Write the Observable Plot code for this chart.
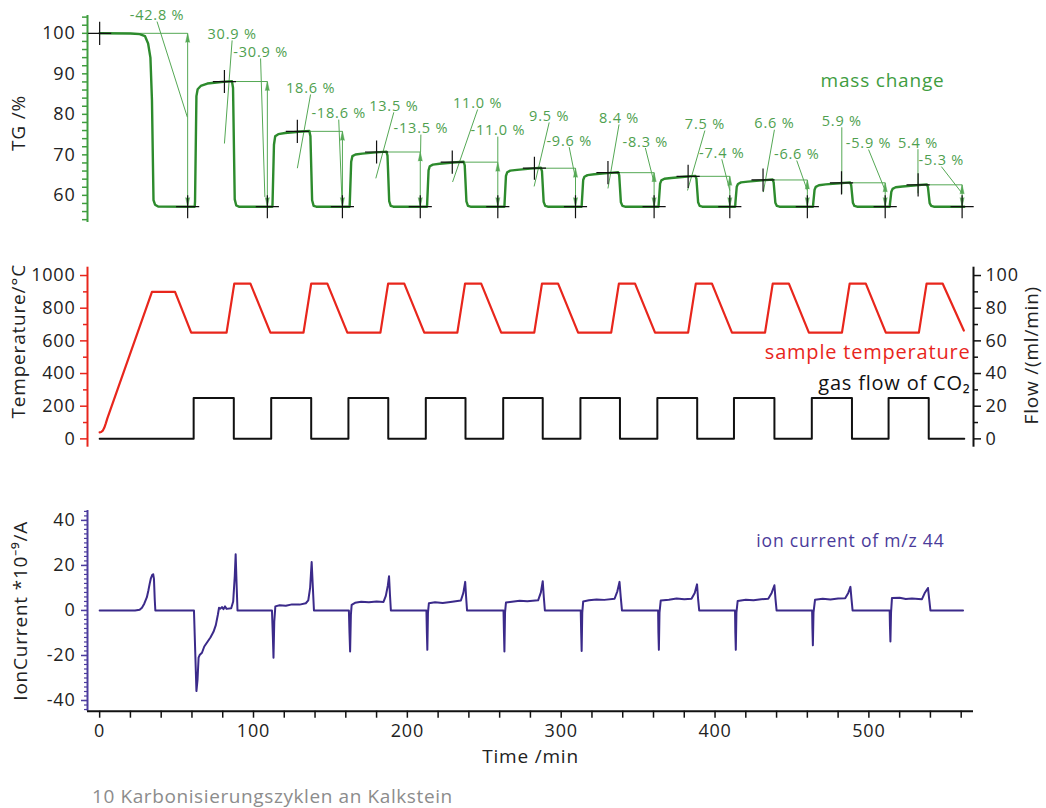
<!DOCTYPE html>
<html><head><meta charset="utf-8">
<script src="https://cdn.jsdelivr.net/npm/d3@7"></script>
<script src="https://cdn.jsdelivr.net/npm/@observablehq/plot@0.6"></script>
<style>
body{margin:0;background:#fff;}
#wrap{position:relative;width:1046px;height:808px;font-family:"Open Sans",sans-serif;overflow:hidden;}
.panel{position:absolute;left:0;}
.panel svg{overflow:visible;letter-spacing:0.8px;}
#caption{position:absolute;left:92px;top:786px;font-size:19px;line-height:20px;letter-spacing:0.6px;color:#8c8c8c;}
</style></head><body>
<div id="wrap">
<div id="p1" class="panel" style="top:0px"></div>
<div id="p2" class="panel" style="top:240px"></div>
<div id="p3" class="panel" style="top:455px"></div>
<div id="caption">10 Karbonisierungszyklen an Kalkstein</div>
</div>
<script>
// ---------------- DATA ----------------
// time axis (min)
const timeTicksMajor = [0, 100, 200, 300, 400, 500];
const timeTicksMinor = [0,20,40,60,80,100,120,140,160,180,200,220,240,260,280,300,320,340,360,380,400,420,440,460,480,500,520,540,560];

// TG curve: [time min, TG %]
const tgPoints = [
 [0,100],[20,99.95],[26,99.8],[29.5,99.3],[31.5,97.5],[33,94],[34,83.5],[35,58.8],[36,57.7],[38,57.25],[61.8,57.2],
 [62.0,58.5],[62.9,84.5],[63.7,86.2],[65.7,87],[70,87.6],[79,88],[86,88.2],[86.7,86.5],[87.8,59],[88.8,57.5],[90.5,57.2],[112.3,57.2],
 [112.4,58.5],[113.3,72.5],[114.1,74.6],[116.1,75.1],[120.5,75.4],[129.5,75.7],[136.3,75.9],[137,74.6],[138.1,58.8],[139.1,57.4],[140.8,57.2],[162.5,57.2],
 [162.6,58.3],[163.5,68.3],[164.3,69.7],[166.3,70.1],[170.7,70.3],[179.6,70.6],[186.4,70.8],[187.1,69.8],[188.2,58.6],[189.2,57.4],[190.9,57.2],[212.8,57.2],
 [212.9,58.2],[213.8,66.2],[214.6,67.2],[216.6,67.6],[221,67.8],[229.8,68.1],[236.6,68.3],[237.3,67.4],[238.4,58.5],[239.4,57.4],[241.1,57.2],[263.1,57.2],
 [263.2,58.1],[264.1,64.8],[264.9,65.7],[266.9,66.1],[271.3,66.3],[280,66.6],[286.8,66.8],[287.5,66],[288.6,58.4],[289.6,57.4],[291.3,57.2],[313.3,57.2],
 [313.4,58],[314.3,63.8],[315.1,64.6],[317.1,65],[321.5,65.2],[330.2,65.5],[337,65.7],[337.7,65],[338.8,58.3],[339.8,57.4],[341.5,57.2],[363.3,57.2],
 [363.4,58],[364.3,62.9],[365.1,63.7],[367.1,64.1],[371.5,64.3],[380.4,64.6],[387.2,64.8],[387.9,64.1],[389,58.3],[390,57.4],[391.7,57.2],[413.1,57.2],
 [413.2,58],[414.1,62.1],[414.9,62.8],[416.9,63.2],[421.3,63.4],[430.6,63.7],[437.4,63.9],[438.1,63.2],[439.2,58.2],[440.2,57.4],[441.9,57.2],[463.7,57.2],
 [463.8,57.9],[464.7,61.4],[465.5,62.1],[467.5,62.5],[471.9,62.7],[481,63],[487.8,63.2],[488.5,62.5],[489.6,58.2],[490.6,57.4],[492.3,57.2],[513.6,57.2],
 [513.7,57.9],[514.6,60.9],[515.4,61.6],[517.4,62],[521.8,62.2],[530.9,62.5],[537.7,62.7],[538.4,62],[539.5,58.1],[540.5,57.4],[542.2,57.2],[562,57.2]
];
const tgLow = 57.2;
// step evaluation markers
const peakCrossT = [0, 81.1, 128.5, 180, 229.2, 282.6, 330.4, 382.5, 431.2, 482.2, 532];
const stepLevel  = [100, 88.1, 75.8, 70.7, 68.2, 66.7, 65.6, 64.7, 63.8, 63.1, 62.6];
const bottomCrossT = [57.2, 109, 157.8, 208.4, 258.8, 309.3, 360.4, 409.6, 460, 510.6, 560.6];
// labels: [text, label t, label TG, leader end t, leader end TG]
const lossLabels = [
 ["-42.8 %", 37.3, 104.4, 57.0, 79.3],
 ["-30.9 %", 104.6, 95.3, 107.4, 59.6],
 ["-18.6 %", 155.4, 80.2, 157.5, 58.8],
 ["-13.5 %", 208.8, 76.5, 208.6, 70.7],
 ["-11.0 %", 258.8, 76.0, 258.8, 68.2],
 ["-9.6 %", 305.2, 73.4, 309.1, 64.5],
 ["-8.3 %", 354.7, 73.2, 360.0, 63.7],
 ["-7.4 %", 404.4, 70.4, 409.6, 61.2],
 ["-6.6 %", 453.1, 70.1, 460.0, 61.2],
 ["-5.9 %", 499.8, 72.8, 510.6, 61.2],
 ["-5.3 %", 547.1, 68.6, 560.0, 60.8]
];
const gainLabels = [
 ["30.9 %", 86.1, 99.75, 81.1, 72.8],
 ["18.6 %", 137.1, 86.4, 128.5, 66.7],
 ["13.5 %", 191.2, 82.0, 179.5, 64.2],
 ["11.0 %", 245.7, 82.7, 229.4, 63.3],
 ["9.5 %", 292.2, 79.5, 282.4, 62.2],
 ["8.4 %", 337.6, 79.0, 330.4, 61.7],
 ["7.5 %", 393.4, 77.5, 382.1, 61.2],
 ["6.6 %", 438.6, 77.7, 431.4, 60.8],
 ["5.9 %", 482.4, 78.3, 482.4, 60.4],
 ["5.4 %", 531.9, 72.9, 531.9, 60.5]
];
const tgTicksMajor = [60, 70, 80, 90, 100];
const tgTicksMinor = [54,56,58,60,62,64,66,68,70,72,74,76,78,80,82,84,86,88,90,92,94,96,98,100,102,104];

// sample temperature: [time min, °C]
const tempPoints = [
 [0,40],[1,42],[2,50],[3,68],[4,95],[5,125],[34,900],[49,900],[59.5,650],
 [82.5,650],[87.5,950],[98,950],[111,650],
 [132.5,650],[137.5,950],[148,950],[161,650],
 [182.5,650],[187.5,950],[198,950],[211,650],
 [232.5,650],[237.5,950],[248,950],[261,650],
 [282.5,650],[287.5,950],[298,950],[311,650],
 [332.5,650],[337.5,950],[348,950],[361,650],
 [382.5,650],[387.5,950],[398,950],[411,650],
 [432.5,650],[437.5,950],[448,950],[461,650],
 [482.5,650],[487.5,950],[498,950],[511,650],
 [532.5,650],[537.5,950],[548,950],[561.7,663]
];
const tempTicksMajor = [0, 200, 400, 600, 800, 1000];
const tempTicksMinor = [100, 300, 500, 700, 900];
// CO2 gas flow (ml/min)
const flowOnT  = [61.1, 111.5, 161.7, 212, 262.3, 312.5, 362.5, 412.3, 462.9, 512.8];
const flowOffT = [87.2, 137.5, 187.6, 237.8, 288, 338.2, 388.4, 438.6, 489, 538.9];
const flowOn = 25, flowOff = 0, flowStart = 0, flowEnd = 562;
const flowTicksMajor = [0, 20, 40, 60, 80, 100];
const flowTicksMinor = [10, 30, 50, 70, 90];

// ion current m/z 44: [time min, 1e-9 A]
const ionPoints = [
 [0,0],[23,0],[26,0.3],[27.5,1.2],[29,3],[30.7,5.9],[31.7,9],[32.5,11.8],[33.3,14.3],[34.2,15.8],[34.8,16.1],[35.3,14],[35.8,5],[36.2,0],
 [61.3,0],[62.2,-20],[62.9,-35.8],[63.6,-31],[64.3,-21],[65,-19.8],[66.5,-18.8],[68,-16],[70,-14],[72,-12],[74,-9.5],[75.5,-6.5],[76.8,-2],[77.6,1.2],[78.5,0.8],[79.5,1.5],[80.5,0.6],[81.5,1.8],[82.5,0.7],[85.5,1],[86.8,4],[87.8,15],[88.4,25],[89,12],[89.6,0],
 [112,0],[112.6,-12],[113,-21],[113.5,-5],[114.2,1.8],[117,2.3],[121,2.1],[125,2.7],[130,2.6],[134,3.2],[135.6,4.5],[136.8,10],[137.8,21.5],[138.6,10],[139.3,0],
 [162,0],[162.4,-10],[162.8,-18.2],[163.3,-2],[163.8,2.5],[166,3.4],[170,3.9],[175,3.6],[180,4.0],[184.5,3.8],[186,6.5],[187.3,11],[188.1,15.2],[188.7,7],[189.3,0],
 [212.4,0],[212.7,-10],[213,-17.5],[213.4,-1],[214,3.2],[218,3.6],[223,3.3],[228,3.8],[234.8,4.4],[236.4,7.8],[237.6,12.7],[238.2,6],[238.8,0],
 [262.5,0],[262.8,-10],[263.1,-18.2],[263.5,-1],[264.1,3.5],[268,3.9],[273,4.3],[278,4.1],[285,4.5],[286.8,8],[288,13],[288.7,6],[289.4,0],
 [312.7,0],[313,-10],[313.3,-18],[313.7,-1],[314.3,4],[318,4.5],[323,4.9],[328,4.7],[334.7,5.2],[336.5,8.5],[337.9,12.7],[338.7,6],[339.5,0],
 [363,0],[363.2,-10],[363.5,-17.5],[363.9,-1],[364.7,4.4],[370,4.8],[375,5.3],[380,5],[384.7,5.2],[386.8,7.8],[388.3,11.6],[389,5],[389.7,0],
 [413,0],[413.2,-10],[413.5,-17.5],[413.9,-1],[414.7,4.2],[420,4.8],[425,4.5],[430,5],[434.6,5.2],[436.8,7.8],[438.6,11.2],[439.3,5],[440,0],
 [463.1,0],[463.3,-8],[463.6,-15.5],[464,-1],[465,4.8],[470,5.2],[475,4.9],[480,5.3],[484.6,5.4],[486.6,7.8],[488,10.5],[488.7,5],[489.4,0],
 [513.5,0],[513.7,-7],[514,-13.8],[514.4,-1],[515,5.5],[520,5.6],[524,5.1],[528,5.3],[534.5,5],[536.5,8],[538.4,10],[539.2,5],[540,0],
 [561.2,0]
];
const ionTicksMajor = [-40, -20, 0, 20, 40];
const ionTicksMinor = d3.range(-44, 45, 2);

// ---------------- STYLE ----------------
const FONT = "'Open Sans', sans-serif";
const FS = 18, TFS = 19;
const GREEN = "#2d8b2d", GREEN_AX = "#3f9d3f", ANN = "#55a855", ANN_TXT = "#4f9f4f";
const RED = "#e8261c", PURPLE = "#3b2a8a", PURPLE_AX = "#4c3c9e";
const xDomain = [-7.9, 568];
const W = 1046, ML = 87, MR = 73;
const common = {width: W, marginLeft: ML, marginRight: MR, style: {fontFamily: FONT, fontSize: FS + "px", background: "transparent", overflow: "visible"}};

function tickAxis(values, opts) { return Plot.axisY(values, {tickFormat: () => "", label: null, ...opts}); }
function labelAxis(values, opts) { return Plot.axisY(values, {tickSize: 0, label: null, fontSize: FS, color: "#222", tickFormat: d => String(d), ...opts}); }

// ---------------- PANEL 1: TG ----------------
const tgYDom = [53.3, 104.4];
const tg = tgPoints.map(([t, v]) => ({t, v}));
const steps = stepLevel.map((lv, i) => ({tp: peakCrossT[i], tb: bottomCrossT[i], lv}));
const loss = lossLabels.map(([s, t, v, t2, v2]) => ({s, t, v, t2, v2}));
const gain = gainLabels.map(([s, t, v, t2, v2]) => ({s, t, v, t2, v2}));

const p1 = Plot.plot({
  ...common, height: 232, marginTop: 15, marginBottom: 10,
  x: {domain: xDomain, axis: null},
  y: {domain: tgYDom, axis: null},
  marks: [
    Plot.ruleX([xDomain[0]], {y1: tgYDom[0], y2: tgYDom[1], stroke: GREEN_AX, strokeWidth: 2}),
    tickAxis(tgTicksMinor, {anchor: "left", tickSize: 6, color: GREEN_AX, strokeWidth: 1.5, dx: 1}),
    labelAxis(tgTicksMajor, {anchor: "left", tickPadding: 12}),
    // annotation lines
    Plot.link(steps, {x1: "tp", x2: "tb", y1: "lv", y2: "lv", stroke: ANN, strokeWidth: 1}),
    Plot.link(steps, {x1: "tb", x2: "tb", y1: tgLow, y2: "lv", stroke: ANN, strokeWidth: 1}),
    Plot.vector(steps, {x: "tb", y: "lv", rotate: 0, length: 9, r: 2, shape: "spike", anchor: "end", fill: ANN, stroke: ANN, strokeWidth: 0.5}),
    Plot.vector(steps, {x: "tb", y: tgLow, rotate: 180, length: 9, r: 2, shape: "spike", anchor: "end", fill: ANN, stroke: ANN, strokeWidth: 0.5}),
    Plot.link(loss, {x1: "t", y1: d => d.v - 1.5, x2: "t2", y2: "v2", stroke: ANN, strokeWidth: 1}),
    Plot.link(gain, {x1: "t", y1: d => d.v - 1.5, x2: "t2", y2: "v2", stroke: ANN, strokeWidth: 1}),
    // TG curve
    Plot.line(tg, {x: "t", y: "v", stroke: GREEN, strokeWidth: 2.4, strokeLinejoin: "round"}),
    // evaluation crosses
    Plot.dot(steps, {x: "tp", y: "lv", symbol: "plus", r: 7.5, stroke: "#111", strokeWidth: 1.2}),
    Plot.dot(steps, {x: "tb", y: tgLow, symbol: "plus", r: 7.5, stroke: "#111", strokeWidth: 1.2}),
    // labels
    Plot.text(loss, {x: "t", y: "v", text: "s", fill: ANN_TXT, fontSize: 14.5}),
    Plot.text(gain, {x: "t", y: "v", text: "s", fill: ANN_TXT, fontSize: 14.5}),
    Plot.text(["mass change"], {frameAnchor: "top-right", dx: -29, dy: 65, lineAnchor: "middle", textAnchor: "end", fill: "#3f9d3f", fontSize: 19}),
    Plot.text(["TG /%"], {frameAnchor: "left", rotate: -90, dx: -69, dy: 4, textAnchor: "middle", fill: "#222", fontSize: TFS})
  ]
});
document.getElementById("p1").append(p1);

// ---------------- PANEL 2: temperature & flow ----------------
const tYDom = [-51, 1051];
const temp = tempPoints.map(([t, v]) => ({t, v}));
const flow = [{t: flowStart, f: flowOff}];
flowOnT.forEach((on, i) => { flow.push({t: on, f: flowOn}); flow.push({t: flowOffT[i], f: flowOff}); });
flow.push({t: flowEnd, f: flowOff});

const p2 = Plot.plot({
  ...common, height: 215, marginTop: 26.7, marginBottom: 8.3,
  x: {domain: xDomain, axis: null},
  y: {domain: tYDom, axis: null},
  marks: [
    Plot.ruleX([xDomain[0]], {y1: tYDom[0], y2: tYDom[1], stroke: RED, strokeWidth: 2}),
    Plot.ruleX([xDomain[1]], {y1: tYDom[0], y2: tYDom[1], stroke: "#111", strokeWidth: 2}),
    tickAxis(tempTicksMajor, {anchor: "left", tickSize: 7, color: RED, strokeWidth: 1.5}),
    tickAxis(tempTicksMinor, {anchor: "left", tickSize: 4, color: RED, strokeWidth: 1.5}),
    labelAxis(tempTicksMajor, {anchor: "left", tickPadding: 12}),
    tickAxis(flowTicksMajor.map(d => d * 10), {anchor: "right", tickSize: 7, color: "#111", strokeWidth: 1.5}),
    tickAxis(flowTicksMinor.map(d => d * 10), {anchor: "right", tickSize: 4, color: "#111", strokeWidth: 1.5}),
    labelAxis(flowTicksMajor.map(d => d * 10), {anchor: "right", tickPadding: 12, tickFormat: d => String(d / 10)}),
    Plot.line(flow, {x: "t", y: d => d.f * 10, curve: "step-after", stroke: "#111", strokeWidth: 2}),
    Plot.line(temp, {x: "t", y: "v", stroke: RED, strokeWidth: 2.2, strokeLinejoin: "round"}),
    Plot.text(["sample temperature"], {frameAnchor: "top-right", dx: -3, dy: 85, lineAnchor: "middle", textAnchor: "end", fill: RED, fontSize: 20}),
    Plot.text(["gas flow of CO₂"], {frameAnchor: "top-right", dx: -3, dy: 116, lineAnchor: "middle", textAnchor: "end", fill: "#111", fontSize: 20}),
    Plot.text(["Temperature/°C"], {frameAnchor: "left", rotate: -90, dx: -69, dy: -16, textAnchor: "middle", fill: "#222", fontSize: TFS}),
    Plot.text(["Flow /(ml/min)"], {frameAnchor: "right", rotate: -90, dx: 58, dy: -2, textAnchor: "middle", fill: "#222", fontSize: TFS})
  ]
});
document.getElementById("p2").append(p2);

// ---------------- PANEL 3: ion current ----------------
const iYDom = [-44.75, 44.4];
const ion = ionPoints.map(([t, v]) => ({t, v}));
const p3 = Plot.plot({
  ...common, height: 330, marginTop: 55, marginBottom: 74.3,
  x: {domain: xDomain, axis: null},
  y: {domain: iYDom, axis: null},
  marks: [
    Plot.ruleX([xDomain[0]], {y1: iYDom[0], y2: iYDom[1], stroke: PURPLE_AX, strokeWidth: 2}),
    tickAxis(ionTicksMinor, {anchor: "left", tickSize: 3, color: PURPLE_AX, strokeWidth: 1.2}),
    tickAxis(ionTicksMajor, {anchor: "left", tickSize: 6, color: PURPLE_AX, strokeWidth: 1.5}),
    labelAxis(ionTicksMajor, {anchor: "left", tickPadding: 12}),
    Plot.ruleY([iYDom[0]], {x1: xDomain[0], x2: xDomain[1], stroke: "#111", strokeWidth: 2}),
    Plot.axisX(timeTicksMinor, {anchor: "bottom", tickSize: 7, tickFormat: () => "", label: null, color: "#111", strokeWidth: 1.5}),
    Plot.axisX(timeTicksMajor, {anchor: "bottom", tickSize: 0, tickPadding: 13, label: null, fontSize: FS, color: "#222", tickFormat: d => String(d)}),
    Plot.line(ion, {x: "t", y: "v", stroke: PURPLE, strokeWidth: 2, strokeLinejoin: "round"}),
    Plot.text(["ion current of m/z 44"], {frameAnchor: "top-right", dx: -29, dy: 31, lineAnchor: "middle", textAnchor: "end", fill: "#4a3b9a", fontSize: 17.5}),
    Plot.text(["Time /min"], {frameAnchor: "bottom", dy: 46, lineAnchor: "middle", fill: "#222", fontSize: TFS}),
    Plot.text(["IonCurrent *10⁻⁹/A"], {frameAnchor: "left", rotate: -90, dx: -67, dy: 0, textAnchor: "middle", fill: "#222", fontSize: TFS})
  ]
});
document.getElementById("p3").append(p3);
</script>
</body></html>
